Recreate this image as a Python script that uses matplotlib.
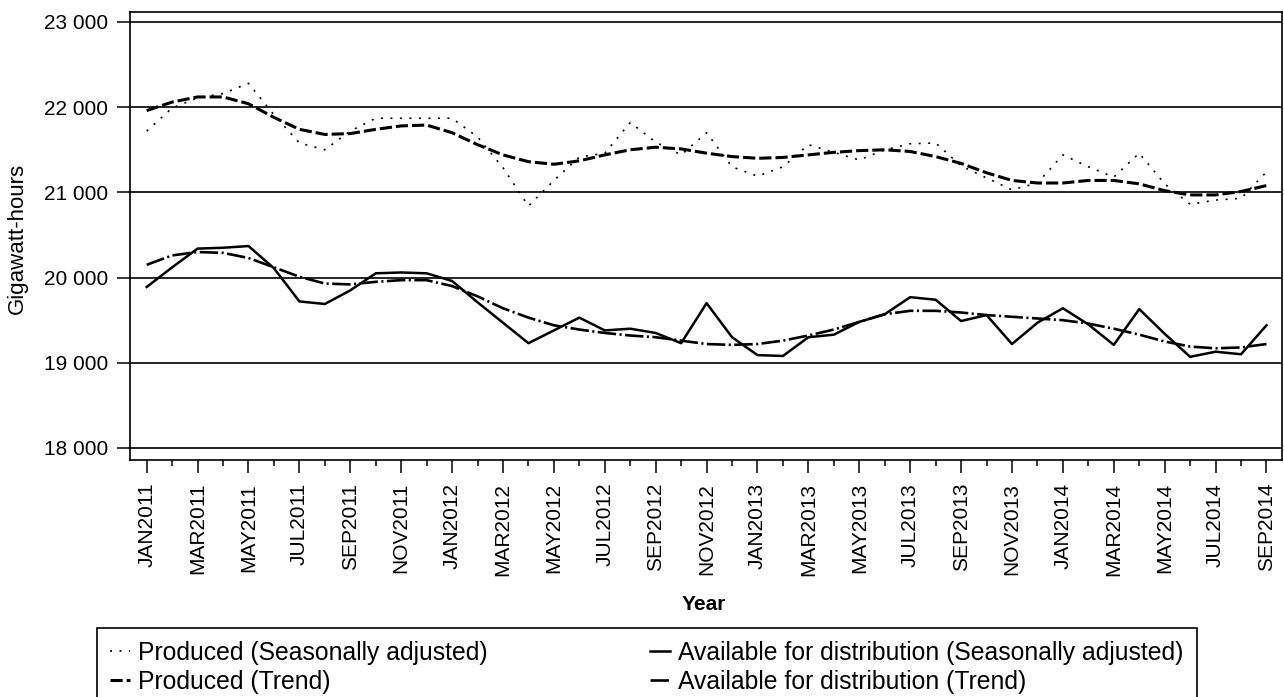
import matplotlib
matplotlib.use("Agg")
import matplotlib.pyplot as plt
from matplotlib.patches import Rectangle

months = ["JAN", "FEB", "MAR", "APR", "MAY", "JUN", "JUL", "AUG", "SEP", "OCT", "NOV", "DEC"]
periods = [f"{months[i % 12]}{2011 + i // 12}" for i in range(45)]

produced_sa = [21720, 21990, 22110, 22160, 22280, 21910, 21580, 21500, 21720, 21870,
               21870, 21870, 21870, 21650, 21290, 20840, 21140, 21415, 21460, 21820,
               21590, 21440, 21700, 21300, 21190, 21300, 21560, 21470, 21380, 21500,
               21570, 21580, 21310, 21170, 21030, 21110, 21440, 21300, 21180, 21460,
               21100, 20860, 20910, 20930, 21240]
produced_trend = [21960, 22060, 22120, 22120, 22040, 21880, 21740, 21680, 21690, 21740,
                  21780, 21790, 21700, 21560, 21440, 21360, 21330, 21370, 21440, 21500,
                  21530, 21510, 21460, 21420, 21400, 21410, 21440, 21470, 21490, 21500,
                  21480, 21420, 21340, 21230, 21140, 21110, 21110, 21140, 21140, 21100,
                  21020, 20970, 20970, 21010, 21080]
available_sa = [19890, 20120, 20340, 20350, 20370, 20110, 19720, 19690, 19850, 20050,
                20060, 20050, 19960, 19710, 19470, 19230, 19380, 19530, 19380, 19400,
                19350, 19230, 19700, 19300, 19090, 19080, 19300, 19330, 19480, 19570,
                19770, 19740, 19490, 19560, 19220, 19470, 19640, 19450, 19210, 19630,
                19340, 19070, 19130, 19100, 19440]
available_trend = [20150, 20260, 20300, 20290, 20230, 20120, 20010, 19930, 19920, 19950,
                   19970, 19970, 19900, 19780, 19640, 19530, 19440, 19390, 19350, 19320,
                   19300, 19260, 19220, 19210, 19220, 19260, 19320, 19390, 19480, 19570,
                   19610, 19610, 19590, 19560, 19540, 19520, 19500, 19460, 19400, 19330,
                   19250, 19190, 19170, 19180, 19220]
y_ticks = [18000, 19000, 20000, 21000, 22000, 23000]

plt.rcParams['font.family'] = ['Liberation Sans', 'DejaVu Sans']

W, H = 1284, 697
fig = plt.figure(figsize=(W / 100, H / 100), dpi=100)
ax = fig.add_axes([130 / W, 1 - 460 / H, (1281.5 - 130) / W, (460 - 12) / H])

x = list(range(len(periods)))
l1, = ax.plot(x, produced_sa, color='black', lw=1.2, linestyle=(0, (1.2, 4.5)),
              label='Produced (Seasonally adjusted)', zorder=3)
l2, = ax.plot(x, produced_trend, color='black', lw=2.2, linestyle=(0, (4, 1.3)),
              label='Produced (Trend)', zorder=3)
l3, = ax.plot(x, available_sa, color='black', lw=1.8, linestyle='-',
              label='Available for distribution (Seasonally adjusted)', zorder=3)
l4, = ax.plot(x, available_trend, color='black', lw=1.9, linestyle=(0, (7, 1.3, 0.8, 1.3)),
              label='Available for distribution (Trend)', zorder=3)

ax.set_xlim(-0.656, 44.59)
ax.set_ylim(17859, 23117)

ax.set_yticks(y_ticks)
ax.set_yticklabels([f"{v // 1000} 000" for v in y_ticks])
ax.yaxis.grid(True, color='black', lw=1.2)
ax.set_axisbelow(True)

ax.set_xticks(x[::2])
ax.set_xticklabels(periods[::2], rotation=90, va='top', ha='center')
ax.set_xticks(x[1::2], minor=True)

ax.tick_params(axis='y', direction='out', length=9.4, width=1.1, pad=6.5, labelsize=15)
ax.tick_params(axis='x', which='major', direction='out', length=9.4, width=1.1, pad=7, labelsize=15)
ax.tick_params(axis='x', which='minor', direction='out', length=4.3, width=1.1)
for s in ax.spines.values():
    s.set_linewidth(1.2)
    s.set_color('black')

fig.text(17 / W, 1 - 238 / H, 'Gigawatt-hours', rotation=90, ha='center', va='center', fontsize=16)
fig.text(704 / W, 1 - 604 / H, 'Year', ha='center', va='center', fontsize=15, fontweight='bold')

# legend box (extends below image edge)
fig.patches.append(Rectangle((97 / W, 1 - 720 / H), (1197 - 97) / W, (720 - 628) / H,
                             transform=fig.transFigure, fill=False, edgecolor='black',
                             lw=1.2, clip_on=False))
leg = fig.legend(handles=[l1, l2, l3, l4], loc='upper left', ncol=2,
                 bbox_to_anchor=(105 / W, 1 - 636 / H), frameon=False, fontsize=17.8,
                 handlelength=0.8, handletextpad=0.32, columnspacing=6.6,
                 labelspacing=0.2, borderpad=0.2, borderaxespad=0)

fig.savefig('out.png', dpi=100)
